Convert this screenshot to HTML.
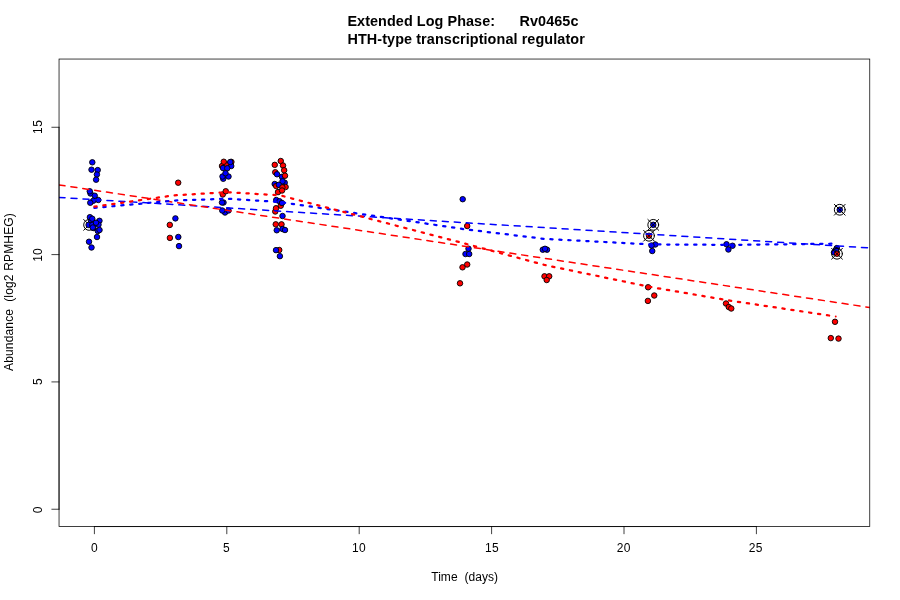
<!DOCTYPE html>
<html lang="en">
<head>
<meta charset="utf-8">
<title>Extended Log Phase: Rv0465c</title>
<style>
html,body{margin:0;padding:0;background:#fff;}
body{width:900px;height:600px;overflow:hidden;}
svg{display:block;}
text{font-family:"Liberation Sans",Arial,Helvetica,sans-serif;fill:#000;white-space:pre;}
.t{font-size:12px;}
.m{font-size:14.4px;font-weight:bold;}
.p{stroke:#000;stroke-width:0.9;}
.b{fill:#0000ff;}
.r{fill:#ff0000;}
.ax{stroke:#000;stroke-width:0.75;fill:none;stroke-linecap:round;}
.o{stroke:#000;stroke-width:1;fill:none;stroke-linecap:round;}
.dash{fill:none;stroke-width:1.5;stroke-dasharray:6 6;stroke-linecap:round;}
.dot{fill:none;stroke-width:2.25;stroke-dasharray:2.25 6.75;stroke-linecap:round;stroke-linejoin:round;}
</style>
</head>
<body>
<svg width="900" height="600" viewBox="0 0 900 600">
<rect x="0" y="0" width="900" height="600" fill="#ffffff"/>
<defs><clipPath id="clip"><rect x="59.04" y="59.04" width="810.72" height="467.52"/></clipPath></defs>
<g clip-path="url(#clip)">
<g class="o">
<circle cx="89.10" cy="224.90" r="5.40"/><path d="M83.70 219.50L94.50 230.30M83.70 230.30L94.50 219.50"/>
</g>
<g class="p">
<circle class="b" cx="92.30" cy="162.30" r="2.75"/>
<circle class="b" cx="91.50" cy="169.70" r="2.75"/>
<circle class="b" cx="97.70" cy="170.10" r="2.75"/>
<circle class="b" cx="96.90" cy="174.50" r="2.75"/>
<circle class="b" cx="96.10" cy="179.70" r="2.75"/>
<circle class="b" cx="90.50" cy="193.50" r="2.75"/>
<circle class="b" cx="89.75" cy="191.25" r="2.75"/>
<circle class="b" cx="94.75" cy="195.75" r="2.75"/>
<circle class="b" cx="98.25" cy="200.00" r="2.75"/>
<circle class="b" cx="93.25" cy="200.75" r="2.75"/>
<circle class="b" cx="90.25" cy="202.75" r="2.75"/>
<circle class="b" cx="91.00" cy="220.80" r="2.75"/>
<circle class="b" cx="89.90" cy="217.20" r="2.75"/>
<circle class="b" cx="92.25" cy="218.75" r="2.75"/>
<circle class="b" cx="99.45" cy="220.80" r="2.75"/>
<circle class="b" cx="88.60" cy="224.90" r="2.75"/>
<circle class="b" cx="92.30" cy="224.90" r="2.75"/>
<circle class="b" cx="98.50" cy="224.70" r="2.75"/>
<circle class="b" cx="96.00" cy="222.75" r="2.75"/>
<circle class="b" cx="93.30" cy="228.00" r="2.75"/>
<circle class="b" cx="92.75" cy="227.50" r="2.75"/>
<circle class="b" cx="97.80" cy="231.00" r="2.75"/>
<circle class="b" cx="99.50" cy="230.00" r="2.75"/>
<circle class="b" cx="97.00" cy="237.00" r="2.75"/>
<circle class="b" cx="89.00" cy="241.75" r="2.75"/>
<circle class="b" cx="91.50" cy="247.50" r="2.75"/>
<circle class="r" cx="178.20" cy="182.70" r="2.75"/>
<circle class="b" cx="175.40" cy="218.40" r="2.75"/>
<circle class="r" cx="169.80" cy="224.90" r="2.75"/>
<circle class="r" cx="169.90" cy="237.90" r="2.75"/>
<circle class="b" cx="178.30" cy="237.00" r="2.75"/>
<circle class="b" cx="179.00" cy="246.10" r="2.75"/>
<circle class="r" cx="231.40" cy="161.90" r="2.75"/>
<circle class="r" cx="222.00" cy="166.00" r="2.75"/>
<circle class="r" cx="226.50" cy="164.50" r="2.75"/>
<circle class="b" cx="231.25" cy="166.00" r="2.75"/>
<circle class="b" cx="230.25" cy="162.00" r="2.75"/>
<circle class="r" cx="223.75" cy="161.75" r="2.75"/>
<circle class="b" cx="223.00" cy="168.00" r="2.75"/>
<circle class="b" cx="227.25" cy="168.25" r="2.75"/>
<circle class="b" cx="223.25" cy="178.75" r="2.75"/>
<circle class="b" cx="222.50" cy="176.50" r="2.75"/>
<circle class="b" cx="228.50" cy="176.50" r="2.75"/>
<circle class="b" cx="225.50" cy="173.25" r="2.75"/>
<circle class="r" cx="222.75" cy="194.50" r="2.75"/>
<circle class="r" cx="225.75" cy="191.25" r="2.75"/>
<circle class="b" cx="223.50" cy="202.50" r="2.75"/>
<circle class="b" cx="222.00" cy="202.50" r="2.75"/>
<circle class="b" cx="225.00" cy="212.50" r="2.75"/>
<circle class="b" cx="222.25" cy="210.50" r="2.75"/>
<circle class="b" cx="228.50" cy="210.50" r="2.75"/>
<circle class="r" cx="280.75" cy="161.00" r="2.75"/>
<circle class="r" cx="274.75" cy="164.85" r="2.75"/>
<circle class="r" cx="283.00" cy="165.50" r="2.75"/>
<circle class="r" cx="284.15" cy="170.25" r="2.75"/>
<circle class="r" cx="275.25" cy="172.25" r="2.75"/>
<circle class="b" cx="277.00" cy="174.25" r="2.75"/>
<circle class="b" cx="282.00" cy="176.80" r="2.75"/>
<circle class="r" cx="285.00" cy="175.75" r="2.75"/>
<circle class="b" cx="284.70" cy="182.70" r="2.75"/>
<circle class="b" cx="282.50" cy="181.30" r="2.75"/>
<circle class="b" cx="274.70" cy="184.00" r="2.75"/>
<circle class="r" cx="276.20" cy="186.10" r="2.75"/>
<circle class="b" cx="278.80" cy="184.80" r="2.75"/>
<circle class="r" cx="285.60" cy="187.00" r="2.75"/>
<circle class="r" cx="282.40" cy="187.40" r="2.75"/>
<circle class="r" cx="278.00" cy="192.10" r="2.75"/>
<circle class="r" cx="282.00" cy="190.50" r="2.75"/>
<circle class="b" cx="276.25" cy="200.00" r="2.75"/>
<circle class="b" cx="279.50" cy="201.25" r="2.75"/>
<circle class="r" cx="280.75" cy="205.75" r="2.75"/>
<circle class="b" cx="282.00" cy="203.00" r="2.75"/>
<circle class="r" cx="275.25" cy="211.50" r="2.75"/>
<circle class="r" cx="276.00" cy="208.25" r="2.75"/>
<circle class="b" cx="282.50" cy="216.00" r="2.75"/>
<circle class="r" cx="275.75" cy="224.35" r="2.75"/>
<circle class="r" cx="281.50" cy="224.35" r="2.75"/>
<circle class="b" cx="276.75" cy="230.25" r="2.75"/>
<circle class="b" cx="282.50" cy="229.00" r="2.75"/>
<circle class="b" cx="285.00" cy="230.00" r="2.75"/>
<circle class="r" cx="279.25" cy="250.00" r="2.75"/>
<circle class="b" cx="276.00" cy="250.15" r="2.75"/>
<circle class="b" cx="279.90" cy="256.15" r="2.75"/>
<circle class="b" cx="462.70" cy="199.20" r="2.75"/>
<circle class="r" cx="467.20" cy="226.00" r="2.75"/>
<circle class="b" cx="468.50" cy="248.70" r="2.75"/>
<circle class="b" cx="465.50" cy="254.00" r="2.75"/>
<circle class="b" cx="469.20" cy="254.00" r="2.75"/>
<circle class="r" cx="467.20" cy="264.50" r="2.75"/>
<circle class="r" cx="462.50" cy="267.30" r="2.75"/>
<circle class="r" cx="460.00" cy="283.30" r="2.75"/>
<circle class="b" cx="542.80" cy="249.70" r="2.75"/>
<circle class="b" cx="547.00" cy="249.70" r="2.75"/>
<circle class="b" cx="545.00" cy="248.80" r="2.75"/>
<circle class="r" cx="544.50" cy="276.30" r="2.75"/>
<circle class="r" cx="549.20" cy="276.30" r="2.75"/>
<circle class="r" cx="546.70" cy="280.00" r="2.75"/>
<circle class="b" cx="653.25" cy="224.85" r="2.75"/>
<circle class="r" cx="649.00" cy="235.75" r="2.75"/>
<circle class="b" cx="655.25" cy="244.50" r="2.75"/>
<circle class="b" cx="651.50" cy="245.50" r="2.75"/>
<circle class="b" cx="652.25" cy="251.00" r="2.75"/>
<circle class="r" cx="648.10" cy="287.25" r="2.75"/>
<circle class="r" cx="654.25" cy="295.50" r="2.75"/>
<circle class="r" cx="647.90" cy="300.90" r="2.75"/>
<circle class="b" cx="726.50" cy="244.25" r="2.75"/>
<circle class="b" cx="732.50" cy="245.75" r="2.75"/>
<circle class="b" cx="728.40" cy="249.50" r="2.75"/>
<circle class="r" cx="726.00" cy="303.50" r="2.75"/>
<circle class="r" cx="728.75" cy="307.00" r="2.75"/>
<circle class="r" cx="731.25" cy="308.50" r="2.75"/>
<circle class="b" cx="839.75" cy="209.75" r="2.75"/>
<circle class="b" cx="836.80" cy="248.10" r="2.75"/>
<circle class="b" cx="835.80" cy="250.00" r="2.75"/>
<circle class="b" cx="834.00" cy="252.40" r="2.75"/>
<circle class="r" cx="837.00" cy="253.75" r="2.75"/>
<circle class="r" cx="835.00" cy="321.80" r="2.75"/>
<circle class="r" cx="830.80" cy="338.10" r="2.75"/>
<circle class="r" cx="838.50" cy="338.60" r="2.75"/>
</g>
<g class="o">
<circle cx="653.25" cy="224.85" r="5.40"/><path d="M647.85 219.45L658.65 230.25M647.85 230.25L658.65 219.45"/>
<circle cx="649.00" cy="235.75" r="5.40"/><path d="M643.60 230.35L654.40 241.15M643.60 241.15L654.40 230.35"/>
<circle cx="839.75" cy="209.75" r="5.40"/><path d="M834.35 204.35L845.15 215.15M834.35 215.15L845.15 204.35"/>
<circle cx="837.00" cy="253.75" r="5.40"/><path d="M831.60 248.35L842.40 259.15M831.60 259.15L842.40 248.35"/>
</g>
<line class="dash" stroke="#0000ff" x1="59.04" y1="197.40" x2="869.76" y2="247.90"/>
<line class="dash" stroke="#ff0000" x1="59.04" y1="184.90" x2="869.76" y2="307.50"/>
<polyline class="dot" stroke="#0000ff" points="94.40,207.90 173.80,200.60 226.80,198.70 279.80,202.00 465.10,229.30 544.60,238.90 650.50,244.40 729.90,244.90 835.80,243.70"/>
<polyline class="dot" stroke="#ff0000" points="94.40,206.60 173.80,195.40 226.80,192.20 279.80,195.30 465.10,243.60 544.60,265.00 650.50,287.00 729.90,300.60 835.80,316.50"/>
<circle cx="835.75" cy="316.55" r="0.95" fill="#ff0000"/>
</g>
<rect class="ax" x="59.04" y="59.04" width="810.72" height="467.52"/>
<path class="ax" d="M94.40 526.56L756.40 526.56M94.40 526.56L94.40 533.76M226.80 526.56L226.80 533.76M359.20 526.56L359.20 533.76M491.60 526.56L491.60 533.76M624.00 526.56L624.00 533.76M756.40 526.56L756.40 533.76M59.04 509.24L59.04 127.28M59.04 509.24L51.84 509.24M59.04 381.92L51.84 381.92M59.04 254.60L51.84 254.60M59.04 127.28L51.84 127.28"/>
<g class="t" text-anchor="middle">
<text x="94.40" y="551.5">0</text>
<text x="226.40" y="551.5">5</text>
<text x="358.90" y="551.5" textLength="13.7">10</text>
<text x="491.90" y="551.5" textLength="13.7">15</text>
<text x="623.70" y="551.5" textLength="13.7">20</text>
<text x="755.70" y="551.5" textLength="13.7">25</text>
<text transform="translate(41.8 509.94) rotate(-90)">0</text>
<text transform="translate(41.8 381.62) rotate(-90)">5</text>
<text transform="translate(41.8 255.10) rotate(-90)">10</text>
<text transform="translate(41.8 126.98) rotate(-90)" textLength="14">15</text>
<text x="464.65" y="580.6" textLength="66.9" xml:space="preserve">Time  (days)</text>
<text transform="translate(12.9 292.1) rotate(-90)" textLength="157.8" xml:space="preserve">Abundance  (log2 RPMHEG)</text>
</g>
<g class="m">
<text x="347.4" y="26.1" textLength="231.0" xml:space="preserve">Extended Log Phase:      Rv0465c</text>
<text x="347.4" y="43.6" textLength="237.4">HTH-type transcriptional regulator</text>
</g>
</svg>
</body>
</html>
